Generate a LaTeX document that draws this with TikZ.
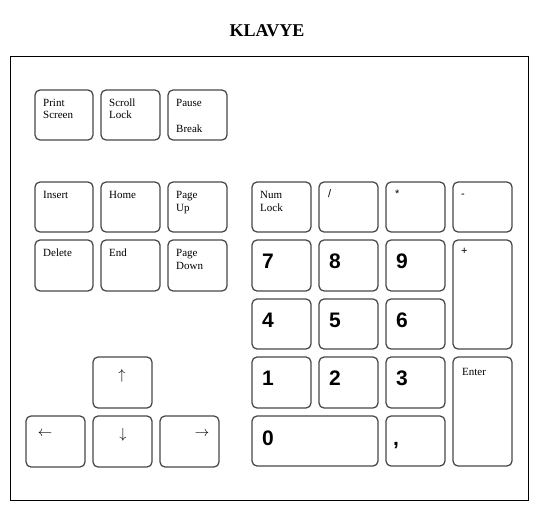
\documentclass[tikz,border=0pt]{standalone}
\usepackage{fontspec}
\setmainfont{Liberation Serif}
\newfontfamily\arialf{Liberation Sans}
\usetikzlibrary{calc}
\begin{document}
\begin{tikzpicture}[x=1pt,y=-1pt,
  keybox/.style={draw=black!72, line width=1.25pt, rounded corners=5pt, inner sep=0pt, outer sep=0pt, anchor=north west},
  lbl/.style={anchor=base west, inner sep=0pt, font=\fontsize{11}{13}\selectfont},
  num/.style={anchor=base west, inner sep=0pt, font=\arialf\bfseries\fontsize{21}{24}\selectfont},
  sym/.style={anchor=base west, inner sep=0pt, font=\arialf\fontsize{11}{13}\selectfont},
  arr/.style={inner sep=0pt, font=\fontsize{15}{17}\selectfont}]
\useasboundingbox (0,0) rectangle (540,512);
\node[font=\bfseries\fontsize{18}{20}\selectfont, inner sep=0pt] (title) at (267,31) {KLAVYE};
\node[draw=black, line width=0.9pt, inner sep=0pt, minimum width=518pt, minimum height=444pt, anchor=north west] (frame) at (10,56) {};
% top row
\node[keybox, minimum width=58pt, minimum height=50pt] (prt) at (35,90) {};
\node[keybox, minimum width=59pt, minimum height=50pt] (scr) at (101,90) {};
\node[keybox, minimum width=59pt, minimum height=50pt] (pau) at (168,90) {};
% navigation
\node[keybox, minimum width=58pt, minimum height=50pt] (ins) at (35,182) {};
\node[keybox, minimum width=59pt, minimum height=50pt] (hom) at (101,182) {};
\node[keybox, minimum width=59pt, minimum height=50pt] (pgu) at (168,182) {};
\node[keybox, minimum width=58pt, minimum height=51pt] (del) at (35,240) {};
\node[keybox, minimum width=59pt, minimum height=51pt] (end) at (101,240) {};
\node[keybox, minimum width=59pt, minimum height=51pt] (pgd) at (168,240) {};
% arrows
\node[keybox, minimum width=59pt, minimum height=51pt] (up) at (93,357) {};
\node[keybox, minimum width=59pt, minimum height=51pt] (lft) at (26,416) {};
\node[keybox, minimum width=59pt, minimum height=51pt] (dwn) at (93,416) {};
\node[keybox, minimum width=59pt, minimum height=51pt] (rgt) at (160,416) {};
% numpad
\node[keybox, minimum width=59pt, minimum height=50pt] (nl) at (252,182) {};
\node[keybox, minimum width=59pt, minimum height=50pt] (dv) at (319,182) {};
\node[keybox, minimum width=59pt, minimum height=50pt] (ml) at (386,182) {};
\node[keybox, minimum width=59pt, minimum height=50pt] (mn) at (453,182) {};
\node[keybox, minimum width=59pt, minimum height=51pt] (k7) at (252,240) {};
\node[keybox, minimum width=59pt, minimum height=51pt] (k8) at (319,240) {};
\node[keybox, minimum width=59pt, minimum height=51pt] (k9) at (386,240) {};
\node[keybox, minimum width=59pt, minimum height=109pt] (pl) at (453,240) {};
\node[keybox, minimum width=59pt, minimum height=50pt] (k4) at (252,299) {};
\node[keybox, minimum width=59pt, minimum height=50pt] (k5) at (319,299) {};
\node[keybox, minimum width=59pt, minimum height=50pt] (k6) at (386,299) {};
\node[keybox, minimum width=59pt, minimum height=51pt] (k1) at (252,357) {};
\node[keybox, minimum width=59pt, minimum height=51pt] (k2) at (319,357) {};
\node[keybox, minimum width=59pt, minimum height=51pt] (k3) at (386,357) {};
\node[keybox, minimum width=59pt, minimum height=109pt] (ent) at (453,357) {};
\node[keybox, minimum width=126pt, minimum height=50pt] (k0) at (252,416) {};
\node[keybox, minimum width=59pt, minimum height=50pt] (cm) at (386,416) {};
% labels
\node[lbl] (tprt1) at ($(prt.north west)+(8,16)$) {Print};
\node[lbl] (tprt2) at ($(prt.north west)+(8,28)$) {Screen};
\node[lbl] (tscr1) at ($(scr.north west)+(8,16)$) {Scroll};
\node[lbl] (tscr2) at ($(scr.north west)+(8,28)$) {Lock};
\node[lbl] (tpau1) at ($(pau.north west)+(8,16)$) {Pause};
\node[lbl] (tpau2) at ($(pau.north west)+(8,42)$) {Break};
\node[lbl] (tins) at ($(ins.north west)+(8,16.5)$) {Insert};
\node[lbl] (thom) at ($(hom.north west)+(8,16.5)$) {Home};
\node[lbl] (tpgu1) at ($(pgu.north west)+(8,16.5)$) {Page};
\node[lbl] (tpgu2) at ($(pgu.north west)+(8,29)$) {Up};
\node[lbl] (tdel) at ($(del.north west)+(8,16.5)$) {Delete};
\node[lbl] (tend) at ($(end.north west)+(8,16.5)$) {End};
\node[lbl] (tpgd1) at ($(pgd.north west)+(8,16.5)$) {Page};
\node[lbl] (tpgd2) at ($(pgd.north west)+(8,29)$) {Down};
\node[lbl] (tnl1) at ($(nl.north west)+(8,16.5)$) {Num};
\node[lbl] (tnl2) at ($(nl.north west)+(8,29)$) {Lock};
\node[sym] (tdv) at ($(dv.north west)+(9,15)$) {/};
\node[sym] (tml) at ($(ml.north west)+(9,15.5)$) {*};
\node[sym] (tmn) at ($(mn.north west)+(8,15)$) {-};
\node[sym] (tpl) at ($(pl.north west)+(8,14)$) {+};
\node[lbl] (tent) at ($(ent.north west)+(9,18)$) {Enter};
\node[num] (t7) at ($(k7.north west)+(10,28)$) {7};
\node[num] (t8) at ($(k8.north west)+(10,28)$) {8};
\node[num] (t9) at ($(k9.north west)+(10,28)$) {9};
\node[num] (t4) at ($(k4.north west)+(10,28)$) {4};
\node[num] (t5) at ($(k5.north west)+(10,28)$) {5};
\node[num] (t6) at ($(k6.north west)+(10,28)$) {6};
\node[num] (t1) at ($(k1.north west)+(10,28)$) {1};
\node[num] (t2) at ($(k2.north west)+(10,28)$) {2};
\node[num] (t3) at ($(k3.north west)+(10,28)$) {3};
\node[num] (t0) at ($(k0.north west)+(10,29)$) {0};
\node[num] (tcm) at ($(cm.north west)+(7,29)$) {,};
% arrow glyphs
\node[arr] (tup) at (122,376) {$\uparrow$};
\node[arr] (tlft) at (45,434) {$\leftarrow$};
\node[arr] (tdwn) at (123,435) {$\downarrow$};
\node[arr] (trgt) at (202,434) {$\rightarrow$};
\end{tikzpicture}
\end{document}
